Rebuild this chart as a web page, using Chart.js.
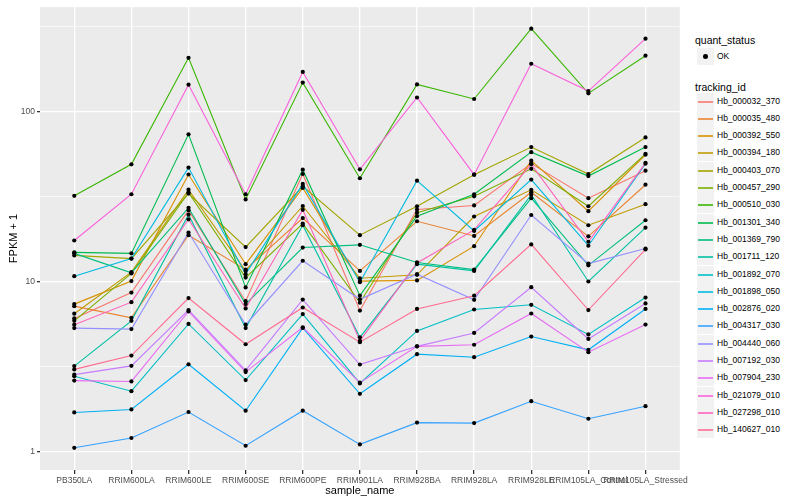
<!DOCTYPE html>
<html>
<head>
<meta charset="utf-8">
<script src="https://cdn.jsdelivr.net/npm/chart.js@4.4.1/dist/chart.umd.min.js"></script>
<style>
  body { margin: 0; background: #fff; font-family: "Liberation Sans", Arial, sans-serif; }
  #wrap { position: relative; width: 800px; height: 500px; }
  #chartBox { position: absolute; left: 0; top: 0; width: 690px; height: 500px; }
  #legend { position: absolute; left: 690px; top: 0; width: 110px; height: 500px; }
  .ttl { position: absolute; left: 5px; font-size: 10.5px; color: #000; }
  .key { position: absolute; left: 7px; width: 17px; height: 17px; background: #F2F2F2; }
  .key span { position: absolute; left: 1px; right: 1px; top: 8px; height: 2px; opacity: 0.8; }
  .key i { position: absolute; left: 6px; top: 6px; width: 4.5px; height: 4.5px; background: #000; border-radius: 2.3px; }
  .lab { position: absolute; left: 27px; font-size: 8.5px; color: #000; line-height: 17px; }
</style>
</head>
<body>
<div id="wrap">
  <div id="chartBox"><canvas id="chart"></canvas></div>
  <div id="legend"></div>
</div>
<script>
// ---------------- DATA ----------------
const samples = ["PB350LA", "RRIM600LA", "RRIM600LE", "RRIM600SE", "RRIM600PE", "RRIM901LA",
  "RRIM928BA", "RRIM928LA", "RRIM928LE", "RRIM105LA_Control", "RRIM105LA_Stressed"];

const trackingIds = ["Hb_000032_370", "Hb_000035_480", "Hb_000392_550", "Hb_000394_180", "Hb_000403_070",
  "Hb_000457_290", "Hb_000510_030", "Hb_001301_340", "Hb_001369_790", "Hb_001711_120",
  "Hb_001892_070", "Hb_001898_050", "Hb_002876_020", "Hb_004317_030", "Hb_004440_060",
  "Hb_007192_030", "Hb_007904_230", "Hb_021079_010", "Hb_027298_010", "Hb_140627_010"];

const colors = ["#F8766D", "#EA8331", "#D89000", "#C09B00", "#A3A500", "#7CAE00", "#39B600", "#00BB4E",
  "#00BF7D", "#00C1A3", "#00BFC4", "#00BAE0", "#00B0F6", "#35A2FF", "#9590FF", "#C77CFF",
  "#E76BF3", "#FA62DB", "#FF62BC", "#FF6C91"];

// FPKM + 1 per sample
const hb_000032_370 = [6.1, 8.65, 26.3, 7.7, 43.0, 6.78, 26.6, 28.1, 49.5, 31.0, 45.0];
const hb_000035_480 = [7.2, 6.15, 18.8, 11.8, 23.7, 11.6, 22.7, 18.6, 33.6, 18.5, 37.2];
const hb_000392_550 = [7.4, 10.1, 42.7, 12.7, 35.6, 10.1, 10.2, 16.2, 51.5, 26.0, 55.8];
const hb_000394_180 = [6.5, 11.4, 34.8, 11.6, 27.9, 10.5, 11.0, 24.2, 34.7, 21.5, 28.6];
const hb_000403_070 = [14.3, 13.7, 33.0, 16.0, 36.4, 18.8, 27.8, 42.6, 61.9, 43.0, 70.5];
const hb_000457_290 = [5.9, 11.2, 33.5, 10.6, 22.0, 7.55, 25.5, 31.8, 46.1, 27.8, 56.5];
const hb_000510_030 = [32, 49, 207, 30.5, 148, 40.6, 144.5, 118.6, 307, 128, 213];
const hb_001301_340 = [14.9, 14.7, 73.5, 9.27, 45.6, 8.3, 24.3, 32.7, 57.8, 41.8, 61.9];
const hb_001369_790 = [14.7, 11.3, 27.2, 7.4, 15.9, 16.5, 13.0, 11.8, 31.0, 12.5, 23.0];
const hb_001711_120 = [3.2, 5.9, 24.8, 5.35, 21.5, 4.72, 12.7, 11.6, 32.5, 10.05, 20.8];
const hb_001892_070 = [2.79, 2.28, 5.66, 2.65, 6.47, 2.53, 5.15, 6.88, 7.33, 4.91, 8.09];
const hb_001898_050 = [10.8, 13.7, 46.9, 11.1, 37.6, 9.95, 39.3, 19.9, 39.9, 16.3, 49.4];
const hb_002876_020 = [1.71, 1.78, 3.28, 1.75, 5.36, 2.20, 3.76, 3.61, 4.77, 3.99, 6.93];
const hb_004317_030 = [1.06, 1.21, 1.72, 1.09, 1.75, 1.11, 1.49, 1.48, 1.99, 1.57, 1.86];
const hb_004440_060 = [5.35, 5.28, 19.5, 5.6, 13.3, 7.9, 11.1, 7.84, 24.7, 12.8, 15.7];
const hb_007192_030 = [2.85, 3.21, 6.83, 3.02, 7.87, 3.27, 4.18, 5.01, 9.30, 4.62, 7.47];
const hb_007904_230 = [2.63, 2.60, 6.70, 2.95, 5.41, 2.56, 4.18, 4.27, 6.52, 3.86, 5.61];
const hb_021079_010 = [17.5, 32.7, 144, 32.7, 171, 45.8, 121, 42.6, 191, 132, 268];
const hb_027298_010 = [5.6, 7.6, 23.3, 6.98, 26.5, 4.5, 12.9, 20.2, 49.0, 17.2, 50.0];
const hb_140627_010 = [3.06, 3.69, 8.03, 4.30, 7.07, 4.42, 6.93, 8.29, 16.6, 6.83, 15.5];

const seriesValues = [hb_000032_370, hb_000035_480, hb_000392_550, hb_000394_180, hb_000403_070,
  hb_000457_290, hb_000510_030, hb_001301_340, hb_001369_790, hb_001711_120,
  hb_001892_070, hb_001898_050, hb_002876_020, hb_004317_030, hb_004440_060,
  hb_007192_030, hb_007904_230, hb_021079_010, hb_027298_010, hb_140627_010];

// y breaks: labelled decades plus the half-decade minor lines
const yBreaks = [1, 3.1623, 10, 31.623, 100, 316.23];
const yLabels = ["1", "", "10", "", "100", ""];

// ---------------- DATASETS ----------------
const datasets = seriesValues.map((vals, i) => ({
  label: trackingIds[i],
  data: vals.map((v, j) => ({ x: j, y: v })),
  borderColor: colors[i],
  backgroundColor: colors[i],
  borderWidth: 1.1,
  pointRadius: 0,
  fill: false,
  tension: 0,
  order: -i
}));

// black points on top of every line (quant_status = OK)
let allPoints = [];
seriesValues.forEach(vals => {
  vals.forEach((v, j) => allPoints.push({ x: j, y: v }));
});
datasets.push({
  label: "OK",
  type: "scatter",
  data: allPoints,
  pointRadius: 2.1,
  pointBackgroundColor: "#000",
  pointBorderColor: "#000",
  pointBorderWidth: 0,
  showLine: false,
  order: -100
});

// ---------------- PANEL BACKGROUND ----------------
const panelBg = {
  id: "panelBg",
  beforeDraw(chart) {
    const a = chart.chartArea;
    const ctx = chart.ctx;
    ctx.save();
    ctx.fillStyle = "#EBEBEB";
    ctx.fillRect(a.left, a.top, a.right - a.left, a.bottom - a.top);
    ctx.restore();
  }
};

const tickFont = { family: "Liberation Sans, Arial, sans-serif", size: 8.5 };
const titleFont = { family: "Liberation Sans, Arial, sans-serif", size: 11 };

new Chart(document.getElementById("chart"), {
  type: "line",
  data: { datasets: datasets },
  plugins: [panelBg],
  options: {
    responsive: true,
    maintainAspectRatio: false,
    animation: false,
    layout: { padding: { top: 5, right: 3, left: 0, bottom: 0 } },
    plugins: { legend: { display: false }, tooltip: { enabled: false } },
    scales: {
      x: {
        type: "linear",
        min: -0.6,
        max: 10.6,
        afterBuildTicks: s => { s.ticks = samples.map((n, i) => ({ value: i })); },
        afterFit: s => { s.height = 30; },
        ticks: {
          autoSkip: false,
          maxRotation: 0,
          minRotation: 0,
          padding: 2,
          color: "#4D4D4D",
          font: tickFont,
          callback: v => samples[v]
        },
        grid: { color: "#FFFFFF", lineWidth: 1.3, tickColor: "#333333", tickLength: 4 },
        border: { display: false },
        title: { display: true, text: "sample_name", color: "#000", font: titleFont, padding: { top: 0, bottom: 2 } }
      },
      y: {
        type: "logarithmic",
        min: 0.785,
        max: 411,
        afterBuildTicks: s => { s.ticks = yBreaks.map(v => ({ value: v })); },
        afterFit: s => { s.width = 40; },
        ticks: {
          padding: 2,
          color: "#4D4D4D",
          font: tickFont,
          callback: (v, i) => yLabels[i]
        },
        grid: {
          color: "#FFFFFF",
          lineWidth: c => (c.index % 2 === 0 ? 1.3 : 0.6),
          tickColor: c => (c.index % 2 === 0 ? "#333333" : "rgba(0,0,0,0)"),
          tickLength: 3
        },
        border: { display: false },
        title: { display: true, text: "FPKM + 1", color: "#000", font: titleFont, padding: { top: 7, bottom: 0 } }
      }
    }
  }
});

// ---------------- LEGEND ----------------
const legend = document.getElementById("legend");
let html = "";
html += `<div class="ttl" style="top:34px">quant_status</div>`;
html += `<div class="key" style="top:48px"><i></i></div>`;
html += `<div class="lab" style="top:48px">OK</div>`;
html += `<div class="ttl" style="top:81px">tracking_id</div>`;
trackingIds.forEach((id, i) => {
  const top = Math.round(92.5 + i * 17.3);
  html += `<div class="key" style="top:${top}px"><span style="background:${colors[i]}"></span></div>`;
  html += `<div class="lab" style="top:${top}px">${id}</div>`;
});
legend.innerHTML = html;
</script>
</body>
</html>
